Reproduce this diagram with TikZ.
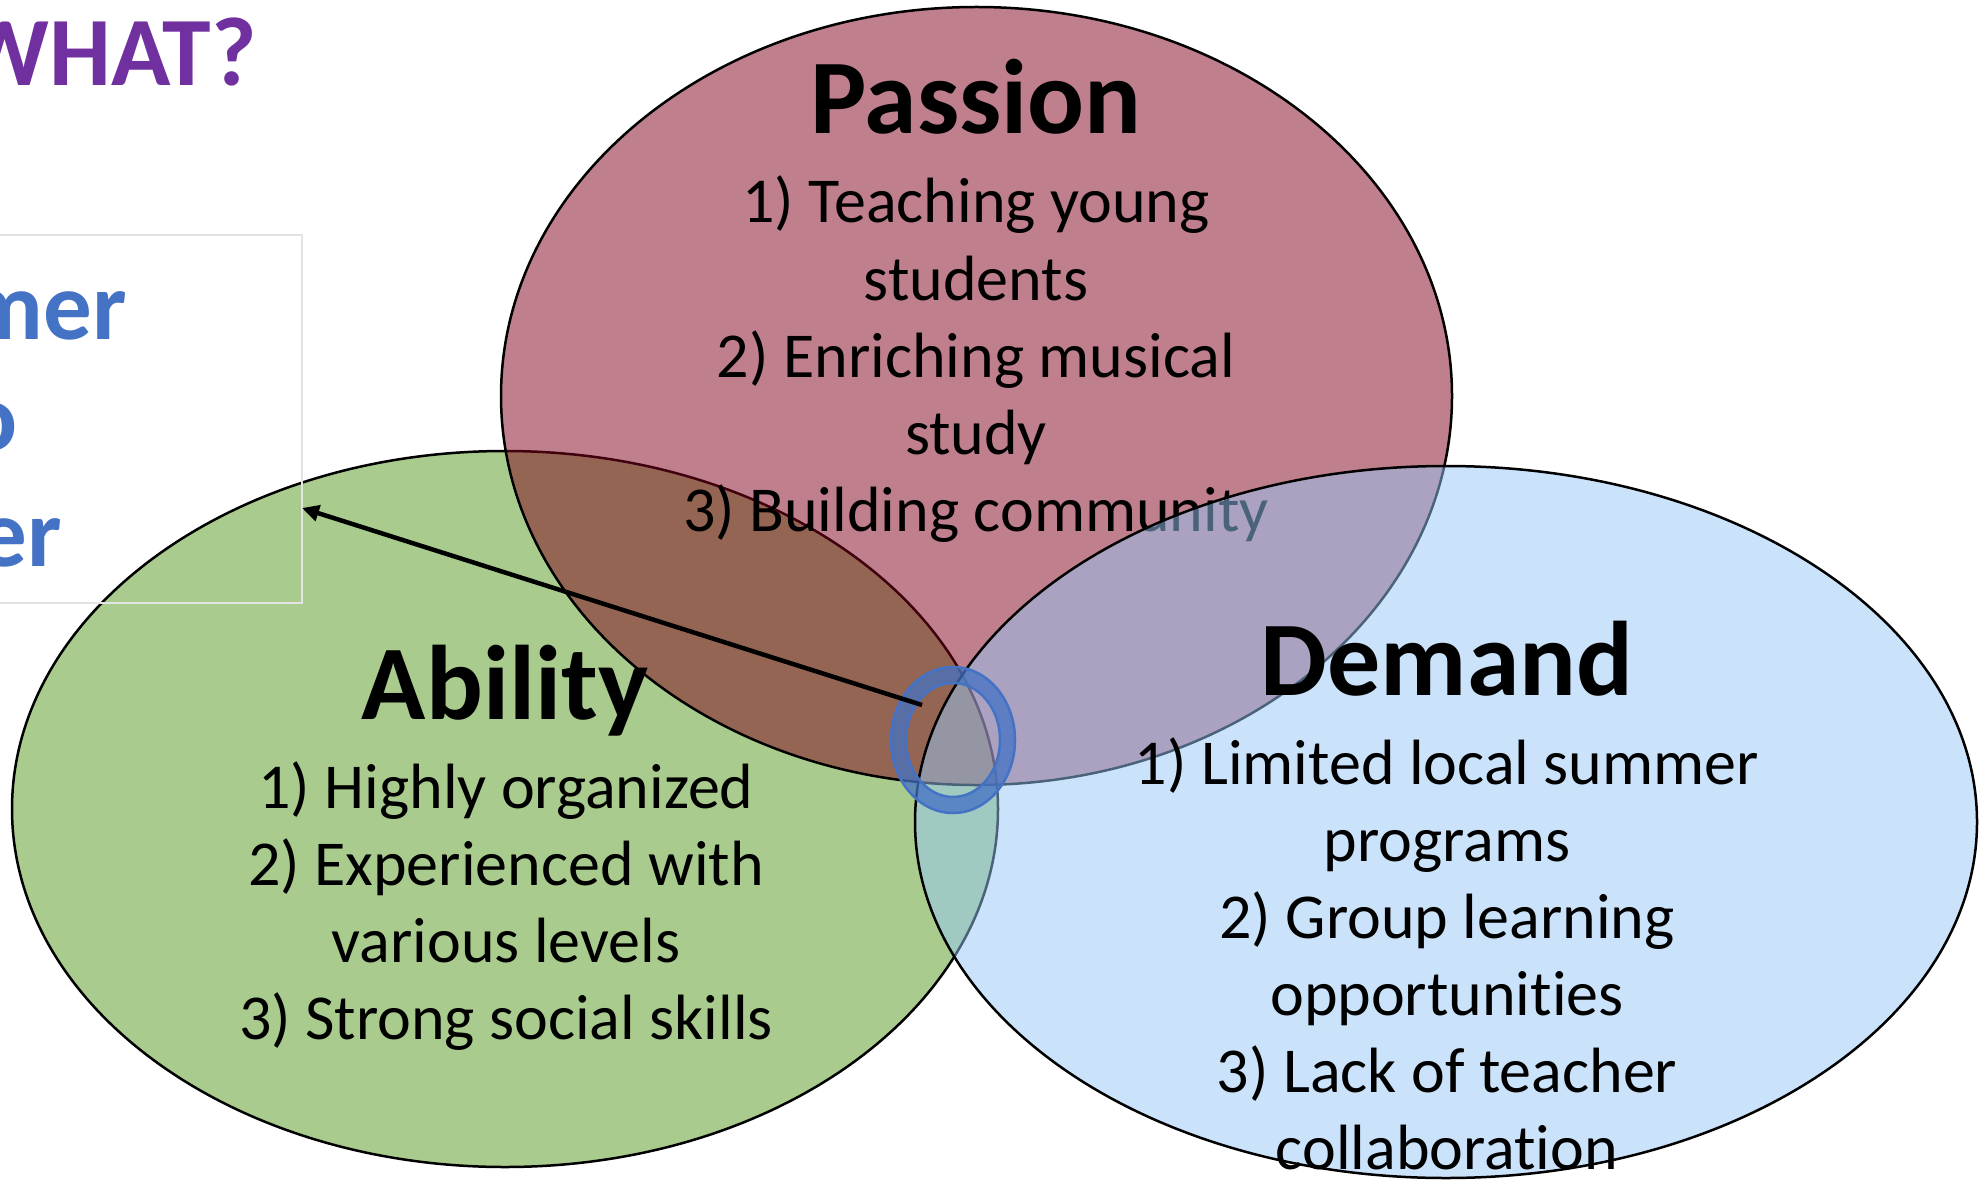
\documentclass[tikz,border=0pt]{standalone}
\usepackage{fontspec}
\setmainfont{Carlito}[Ligatures={NoCommon}]
\usetikzlibrary{arrows.meta,shapes.geometric}

\definecolor{abilitygreen}{HTML}{A9CC8E}
\definecolor{passionred}{HTML}{80001A}
\definecolor{demandblue}{HTML}{97C7F5}
\definecolor{ringblue}{HTML}{4472C4}
\definecolor{titlepurple}{HTML}{7030A0}
\definecolor{boxgray}{HTML}{E4E4E4}

\begin{document}
\begin{tikzpicture}[x=1pt,y=-1pt,
  setshape/.style={ellipse, draw=black, line width=2.5pt, inner sep=0pt},
  settitle/.style={font=\fontsize{106}{124}\selectfont\bfseries, anchor=base, inner sep=0pt},
  setitem/.style={font=\fontsize{64}{77}\selectfont, anchor=base, inner sep=0pt},
  sidetext/.style={font=\fontsize{97}{113}\selectfont\bfseries, text=ringblue, anchor=base east, inner sep=0pt},
]
\useasboundingbox (0,0) rectangle (1985,1182);
\clip (0,0) rectangle (1985,1182);

% Ability set (bottom layer)
\node[setshape, fill=abilitygreen, minimum width=986pt, minimum height=716pt] (ability) at (505,809) {};
\node[setitem] (ability1) at (506,808) {1) Highly organized};
\node[setitem] (ability2) at (506,885) {2) Experienced with};
\node[setitem] (ability3) at (506,962) {various levels};
\node[setitem] (ability4) at (506,1039) {3) Strong social skills};

% Passion set, half transparent
\node[setshape, fill=passionred, fill opacity=0.5, minimum width=951pt, minimum height=778pt] (passion) at (976.5,396) {};
\node[settitle] (passionT) at (976,134) {Passion};
\node[setitem] (passion1) at (976,223) {1) Teaching young};
\node[setitem] (passion2) at (976,300) {students};
\node[setitem] (passion3) at (976,377) {2) Enriching musical};
\node[setitem] (passion4) at (976,454) {study};
\node[setitem] (passion5) at (976,531) {3) Building community};
\node[settitle] (abilityT) at (505,719) {Ability};

% Demand set, half transparent
\node[setshape, fill=demandblue, fill opacity=0.5, minimum width=1062pt, minimum height=712pt] (demand) at (1446,822) {};
\node[settitle] (demandT) at (1447,695) {Demand};
\node[setitem] (demand1) at (1447,784) {1) Limited local summer};
\node[setitem] (demand2) at (1447,861) {programs};
\node[setitem] (demand3) at (1447,938) {2) Group learning};
\node[setitem] (demand4) at (1447,1015) {opportunities};
\node[setitem] (demand5) at (1447,1092) {3) Lack of teacher};
\node[setitem] (demand6) at (1447,1169) {collaboration};

% Heading and side panel
\node[font=\fontsize{98}{114}\selectfont\bfseries, text=titlepurple, anchor=base east, inner sep=0pt] (what) at (257,86) {WHAT?};
\node[draw=boxgray, line width=2pt, minimum width=332pt, minimum height=368pt, inner sep=0pt] (box) at (136,419) {};
\node[sidetext] (side1) at (127,339) {mer};
\node[sidetext] (side2) at (18,450) {o};
\node[sidetext] (side3) at (62,566) {er};

% Highlight ring at the common intersection
\coordinate (ring) at (953,740);
\fill[ringblue, fill opacity=0.75, even odd rule]
  (ring) ellipse [x radius=62pt, y radius=73pt]
  (ring) ellipse [x radius=47pt, y radius=57pt];
\draw[ringblue, line width=2.5pt] (ring) ellipse [x radius=62pt, y radius=73pt];
\draw[ringblue, line width=2.5pt] (ring) ellipse [x radius=47pt, y radius=57pt];

% Pointer from the ring to the side panel
\coordinate (arrowstart) at (922,705);
\coordinate (arrowtip) at (302,508);
\draw[-{Triangle[length=17pt,width=16pt]}, line width=4.5pt] (arrowstart) -- (arrowtip);
\end{tikzpicture}
\end{document}
